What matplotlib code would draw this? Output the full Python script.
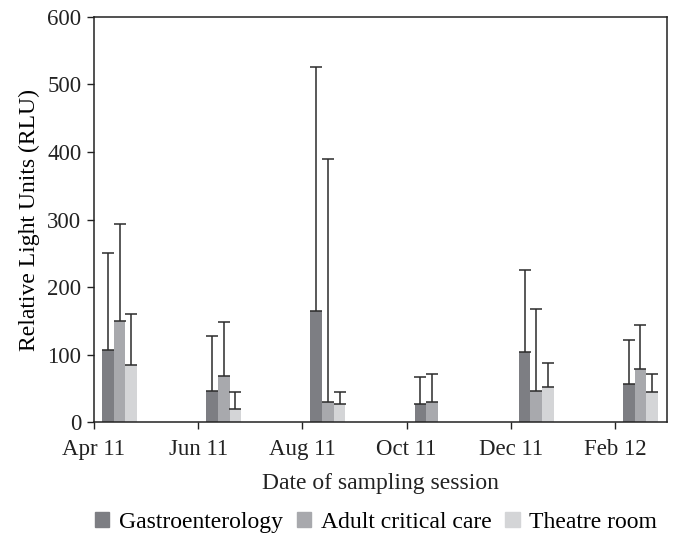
import numpy as np
import matplotlib
matplotlib.use('Agg')
import matplotlib.pyplot as plt
from matplotlib.patches import Patch

plt.rcParams['font.family'] = ['Liberation Serif', 'DejaVu Serif']

sessions = ['Apr 11', 'Jun 11', 'Aug 11', 'Oct 11', 'Dec 11', 'Feb 12']
groups = ['Gastroenterology', 'Adult critical care', 'Theatre room']

# mean RLU per ward and the top of each error bar
gastro = [106, 46, 165, 26, 103, 56]
gastro_top = [251, 127, 526, 66, 225, 121]
adult = [150, 68, 30, 30, 46, 78]
adult_top = [294, 148, 390, 71, 168, 144]
theatre = [84, 20, 27, 0, 52, 44]
theatre_top = [160, 45, 45, 0, 87, 71]

colours = ['#7d7e83', '#a8a9ad', '#d4d5d7']

fig = plt.figure(figsize=(6.9, 5.34), dpi=100)
ax = fig.add_axes([0.1362, 0.2097, 0.8305, 0.7585])

x = np.arange(len(sessions))
offset = 0.077
w = 0.112

series = [(gastro, gastro_top), (adult, adult_top), (theatre, theatre_top)]
for i, (vals, tops) in enumerate(series):
    vals = np.array(vals, dtype=float)
    tops = np.array(tops, dtype=float)
    xc = x + offset + w * (i + 0.5)
    ax.bar(xc, vals, width=w, color=colours[i], zorder=2)
    has = tops > 0
    ax.errorbar(xc[has], vals[has],
                yerr=[np.zeros(has.sum()), tops[has] - vals[has]],
                fmt='none', ecolor='#2b2b2b', elinewidth=1.1,
                capsize=4.3, capthick=1.1, zorder=3)

ax.set_xlim(0, 5.5)
ax.set_ylim(0, 600)
ax.set_xticks(x)
ax.set_xticklabels(sessions)
ax.set_yticks(np.arange(0, 601, 100))
ax.tick_params(labelsize=16.5, length=5, width=1, direction='out',
               colors='#222222', pad=4)
ax.tick_params(axis='x', pad=7)
for s in ax.spines.values():
    s.set_linewidth(1.1)
    s.set_color('#222222')

ax.set_ylabel('Relative Light Units (RLU)', fontsize=17, labelpad=5)
fig.text(0.5515, 1 - 484 / 534, 'Date of sampling session', fontsize=17,
         ha='center', va='center', color='#222222')

handles = [Patch(color=c) for c in colours]
fig.legend(handles, groups, loc='lower center', ncol=3, frameon=False,
           fontsize=17, handlelength=0.6, handleheight=0.6,
           handletextpad=0.4, columnspacing=0.6,
           bbox_to_anchor=(0.545, -0.037))

fig.savefig('out.png', dpi=100)
